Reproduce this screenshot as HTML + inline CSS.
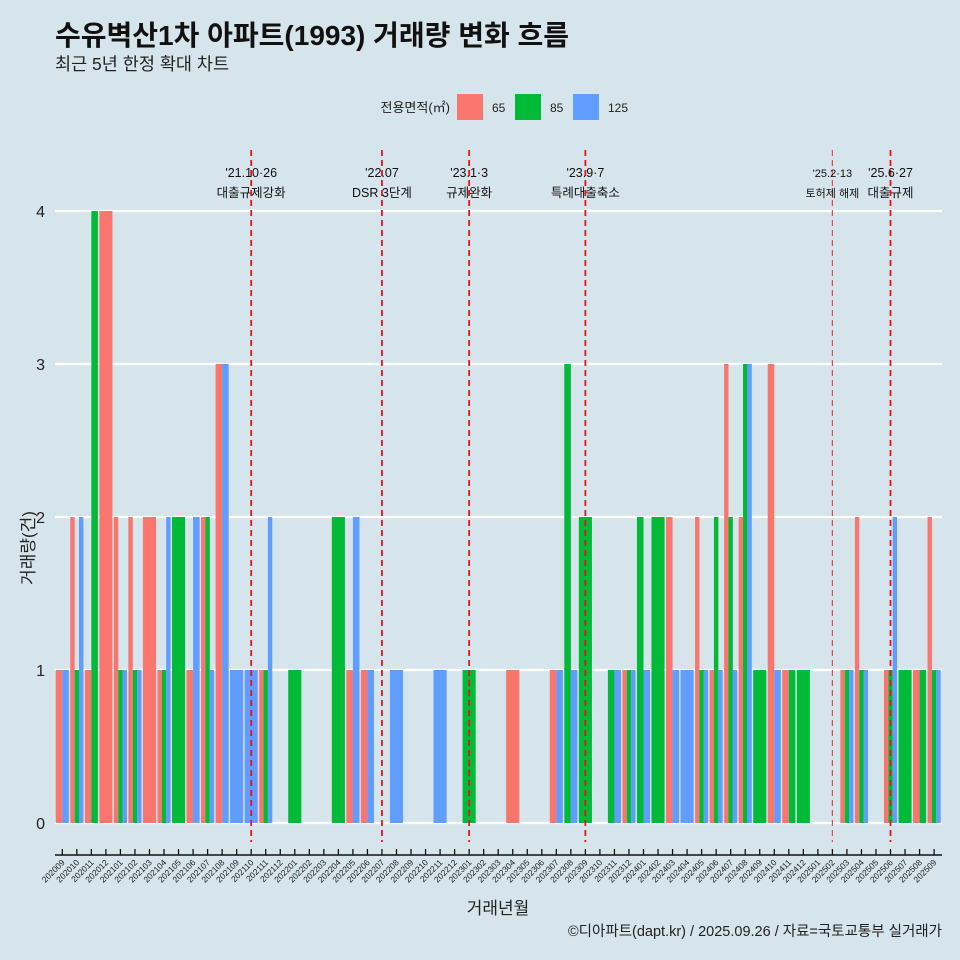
<!DOCTYPE html>
<html><head><meta charset="utf-8"><style>
html,body{margin:0;padding:0;background:#d6e4eb;}
svg{display:block;font-family:"Liberation Sans","Noto Sans CJK KR",sans-serif;}
</style></head><body>
<svg id="chart" width="960" height="960" viewBox="0 0 960 960" xmlns="http://www.w3.org/2000/svg">
<rect x="0" y="0" width="960" height="960" fill="#d6e4eb"/>
<text x="55" y="45" font-size="28" font-weight="bold" fill="#111">수유벽산1차 아파트(1993) 거래량 변화 흐름</text>
<text x="55" y="70" font-size="17.5" fill="#222">최근 5년 한정 확대 차트</text>
<g font-size="12" fill="#222">
<text x="450" y="112" text-anchor="end" font-size="13">전용면적(㎡)</text>
<rect x="457" y="94" width="26" height="26" fill="#f8766d"/>
<text x="492" y="112">65</text>
<rect x="515" y="94" width="26" height="26" fill="#00ba38"/>
<text x="550" y="112">85</text>
<rect x="573" y="94" width="26" height="26" fill="#619cff"/>
<text x="608" y="112">125</text>
</g>
<g id="grid"></g><g id="bars"></g><g id="events"></g><g id="axes"></g>
<text transform="translate(34,548) rotate(-90)" text-anchor="middle" font-size="17" fill="#222">거래량(건)</text>
<text x="498" y="914" text-anchor="middle" font-size="17" fill="#222">거래년월</text>
<text x="942" y="936" text-anchor="end" font-size="14.5" fill="#222">©디아파트(dapt.kr) / 2025.09.26 / 자료=국토교통부 실거래가</text>
</svg>
<script>
const months=["202009","202010","202011","202012","202101","202102","202103","202104","202105","202106","202107","202108","202109","202110","202111","202112","202201","202202","202203","202204","202205","202206","202207","202208","202209","202210","202211","202212","202301","202302","202303","202304","202305","202306","202307","202308","202309","202310","202311","202312","202401","202402","202403","202404","202405","202406","202407","202408","202409","202410","202411","202412","202501","202502","202503","202504","202505","202506","202507","202508","202509"];
const v65 =[1,2,1,4,2,2,2,1,0,1,2,3,0,0,1,0,0,0,0,0,1,1,0,0,0,0,0,0,0,0,0,1,0,0,1,0,0,0,0,1,0,0,2,0,2,1,3,2,0,3,1,0,0,0,1,2,0,1,0,1,2];
const v85 =[0,1,4,0,1,1,0,1,2,0,2,0,0,0,1,0,1,0,0,2,0,0,0,0,0,0,0,0,1,0,0,0,0,0,0,3,2,0,1,1,2,2,0,0,1,2,2,3,1,0,1,1,0,0,1,1,0,1,1,1,1];
const v125=[1,2,0,0,1,1,0,2,0,2,1,3,1,1,2,0,0,0,0,0,2,1,0,1,0,0,1,0,0,0,0,0,0,0,1,1,0,0,1,1,1,0,1,1,1,1,1,3,0,1,0,0,0,0,1,1,0,2,0,0,1];
const yTicks=[0,1,2,3,4];
const eventMonths=["202110","202207","202301","202309","202502","202506"];
const eventDates=["'21.10·26","'22.07","'23.1·3","'23.9·7","'25.2·13","'25.6·27"];
const eventNames=["대출규제강화","DSR 3단계","규제완화","특례대출축소","토허제 해제","대출규제"];

const NS="http://www.w3.org/2000/svg";
const colors=["#f8766d","#00ba38","#619cff"];
const x0=62.3, step=14.53, y0=823, unit=153, plotL=55, plotR=942;
function xs(i){return x0+i*step;}
function ys(v){return y0-v*unit;}
function mk(tag,attrs,parent){const e=document.createElementNS(NS,tag);for(const k in attrs)e.setAttribute(k,attrs[k]);parent.appendChild(e);return e;}
const grid=document.getElementById('grid'),bars=document.getElementById('bars'),ev=document.getElementById('events'),axes=document.getElementById('axes');

yTicks.forEach(t=>{
  const l=mk('line',{x1:plotL,x2:plotR,y1:ys(t),y2:ys(t),stroke:'#ffffff','stroke-width':2.2},grid);
  
  
  const tx=mk('text',{x:45,y:ys(t)+6,'text-anchor':'end','font-size':16,fill:'#222'},axes);
  tx.textContent=t;
  
  
});

const series=[v65,v85,v125], names=["65","85","125"];
const groupW=13.1;
months.forEach((m,i)=>{
  const present=[0,1,2].filter(s=>series[s][i]>0);
  const n=present.length; if(!n)return;
  const w=groupW/n;
  present.forEach((s,k)=>{
    const v=series[s][i];
    const r=mk('rect',{x:xs(i)-groupW/2+k*w,y:ys(v),width:w,height:v*unit,fill:colors[s]},bars);
    
    
  });
});

eventMonths.forEach((m,j)=>{
  const i=months.indexOf(m), x=xs(i);
  const light=(m==="202502");
  const l=mk('line',{x1:x,x2:x,y1:150,y2:842,stroke:light?'#e04a4a':'#e8121b','stroke-width':light?1.2:1.8,'stroke-dasharray':'6,4'},ev);
  
  
  const fs=light?11:12.5;
  const t1=mk('text',{x:x,y:177,'text-anchor':'middle','font-size':fs,fill:'#111'},ev);
  t1.textContent=eventDates[j];
  
  
  const t2=mk('text',{x:x,y:197,'text-anchor':'middle','font-size':fs,fill:'#111'},ev);
  t2.textContent=eventNames[j];
  
  
});

const ax=mk('line',{x1:plotL,x2:plotR,y1:855,y2:855,stroke:'#111','stroke-width':1.5},axes);


months.forEach((m,i)=>{
  const x=xs(i);
  const tk=mk('line',{x1:x,x2:x,y1:849,y2:855,stroke:'#111','stroke-width':1.3},axes);
  
  
  const t=mk('text',{x:x+3,y:863,'text-anchor':'end','font-size':8.5,fill:'#222',transform:`rotate(-45 ${x+3} 863)`},axes);
  t.textContent=m;
  
  
});
</script>
</body></html>
